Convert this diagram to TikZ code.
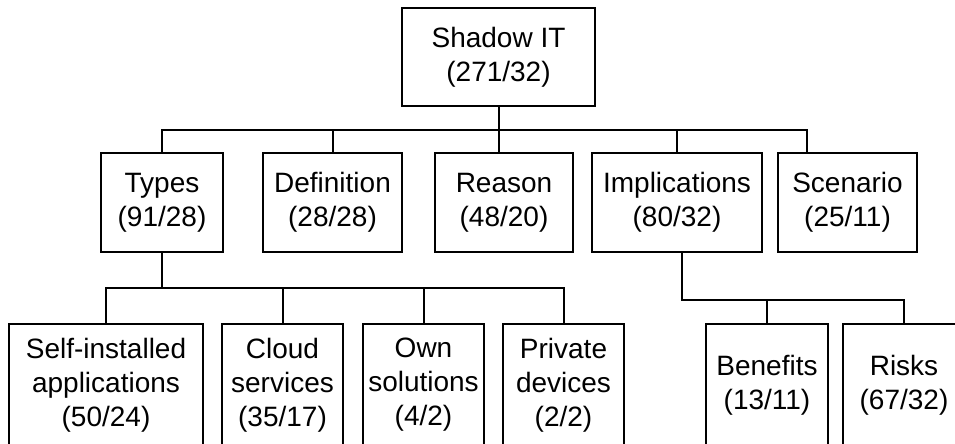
\documentclass[tikz,border=0pt]{standalone}
\usepackage{fontspec}
\setmainfont{Liberation Sans}
\usetikzlibrary{calc}
\begin{document}
\begin{tikzpicture}[x=1pt,y=-1pt,
  box/.style={draw=black,line width=2pt,rectangle,align=center,inner sep=0pt,
    font=\fontsize{28}{34}\selectfont},
  conn/.style={draw=black,line width=2pt}]
\useasboundingbox (0,0) rectangle (955,444);
% level 1
\node[box,minimum width=193,minimum height=98] (root) at (498.5,57) {Shadow IT\\(271/32)};
% level 2
\node[box,minimum width=122,minimum height=99] (types) at (162,202.5) {Types\\(91/28)};
\node[box,minimum width=139,minimum height=99] (def) at (332.5,202.5) {Definition\\(28/28)};
\node[box,minimum width=138,minimum height=99] (reason) at (504,202.5) {Reason\\(48/20)};
\node[box,minimum width=170,minimum height=99] (impl) at (677,202.5) {Implications\\(80/32)};
\node[box,minimum width=139,minimum height=99] (scen) at (847.5,202.5) {Scenario\\(25/11)};
% level 3
\node[box,minimum width=194,minimum height=122] (self) at (106,385) {Self-installed\\applications\\(50/24)};
\node[box,minimum width=121,minimum height=122] (cloud) at (282.5,385) {Cloud\\services\\(35/17)};
\node[box,minimum width=121,minimum height=122] (own) at (423.5,385) {Own\\solutions\\(4/2)};
\node[box,minimum width=121,minimum height=122] (priv) at (563.5,385) {Private\\devices\\(2/2)};
\node[box,minimum width=122,minimum height=122] (ben) at (767,385) {Benefits\\(13/11)};
\node[box,minimum width=122,minimum height=122] (risks) at (904,385) {Risks\\(67/32)};
% bus coordinates
\coordinate (busA) at (0,130);
\coordinate (busB) at (0,288);
\coordinate (busC) at (0,300);
\coordinate (scenX) at ($(scen.north west)+(30,0)$);
\coordinate (rootX) at (root.south);
\coordinate (implX) at ($(impl.south)+(5,0)$);
% connectors level 1-2
\draw[conn] (root.south) -- (rootX |- reason.north);
\draw[conn] (types.north) -- (types.north |- busA) -- (scenX |- busA) -- (scenX);
\draw[conn] (def.north) -- (def.north |- busA);
\draw[conn] (impl.north) -- (impl.north |- busA);
% connectors Types
\draw[conn] (types.south) -- (types.south |- busB);
\draw[conn] (self.north) -- (self.north |- busB) -- (priv.north |- busB) -- (priv.north);
\draw[conn] (cloud.north) -- (cloud.north |- busB);
\draw[conn] (own.north) -- (own.north |- busB);
% connectors Implications
\draw[conn] (implX) -- (implX |- busC) -- (risks.north |- busC) -- (risks.north);
\draw[conn] (ben.north) -- (ben.north |- busC);
\end{tikzpicture}
\end{document}
